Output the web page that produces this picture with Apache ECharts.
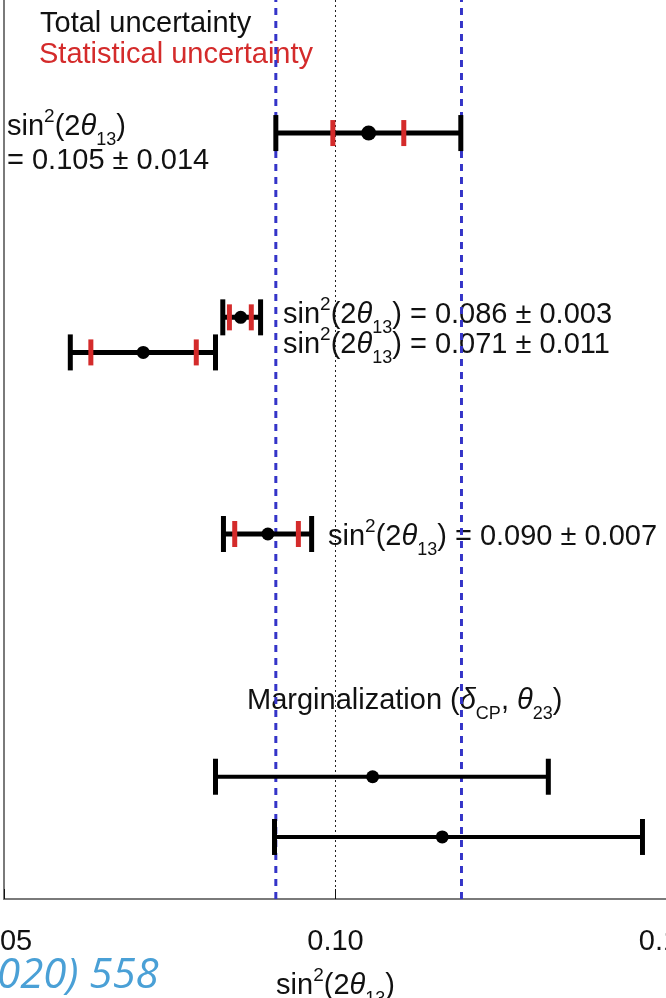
<!DOCTYPE html>
<html><head><meta charset="utf-8">
<script src="https://cdn.jsdelivr.net/npm/echarts@6/dist/echarts.min.js"></script>
<style>html,body{margin:0;padding:0;background:#fff}#c{width:666px;height:998px}</style>
</head><body><div id="c"></div>
<script>
// ---- data ----
const rowLabels = ['Result A', 'Result B', 'Result C', 'Result D', 'Marg. 1', 'Marg. 2'];
const rowPos    = [85.2, 64.7, 60.8, 40.6, 13.6, 6.9];
const centers   = [0.1050, 0.0857, 0.0710, 0.0898, 0.1056, 0.1161];
const totalLo   = [0.0910, 0.0830, 0.0600, 0.0831, 0.0819, 0.0908];
const totalHi   = [0.1189, 0.0887, 0.0819, 0.0964, 0.1321, 0.1463];
const statLo    = [0.0996, 0.0840, 0.0631, 0.0848, null, null];
const statHi    = [0.1103, 0.0873, 0.0790, 0.0944, null, null];
const refLines  = [0.091, 0.119];
const yRange    = [0, 100];
const xTicks    = [0.05, 0.10, 0.15];

const FF = '"Liberation Sans", Arial, Helvetica, sans-serif';
const INK = '#111';
const RED = '#d42b2b';
const BLUE = '#3434c8';

const chart = echarts.init(document.getElementById('c'), null, {renderer: 'canvas'});

function richDef(color) {
  return {
    sup: {fontSize: 19, lineHeight: 19, verticalAlign: 'top', padding: [2, 0, 0, 0], fontFamily: FF, fill: color, color: color},
    sub: {fontSize: 18, lineHeight: 19, verticalAlign: 'bottom', fontFamily: FF, fill: color, color: color},
    it:  {fontSize: 29, lineHeight: 44, fontStyle: 'italic', fontFamily: FF, fill: color, color: color},
    n:   {fontSize: 29, lineHeight: 44, fontFamily: FF, fill: color, color: color}
  };
}
const S2T = '{n|sin}{sup|2}{n|(2}{it|θ}{sub|13}{n|)}';

function txt(x, y, text, color, extra) {
  return Object.assign({
    type: 'text', x: x, y: y, silent: true,
    style: {text: text, fill: color || INK, fontFamily: FF, fontSize: 29, lineHeight: 44,
            align: 'left', verticalAlign: 'middle', rich: richDef(color || INK)}
  }, extra || {});
}

const errData = rowPos.map((p, i) => [totalLo[i], totalHi[i], p]);
const dotData = rowPos.map((p, i) => [centers[i], p]);

const refSeries = refLines.map(v => ({
  type: 'line', z: 2, silent: true, symbol: 'none',
  data: [[v, yRange[0]], [v, yRange[1]]],
  lineStyle: {color: BLUE, width: 3, type: [7, 6]}
}));

chart.setOption({
  animation: false,
  backgroundColor: '#fff',
  grid: {left: 4, top: 0, width: 663, bottom: 99, containLabel: false, outerBoundsMode: 'none'},
  xAxis: {
    type: 'value', min: xTicks[0], max: xTicks[xTicks.length - 1], interval: 0.05,
    axisLine: {show: true, lineStyle: {color: '#7a7a7a', width: 2}},
    axisTick: {show: true, inside: true, length: 10, lineStyle: {color: '#111', width: 1}},
    axisLabel: {show: true, margin: 28, fontSize: 29, fontFamily: FF, color: INK,
                showMinLabel: true, showMaxLabel: true, hideOverlap: false, formatter: v => v.toFixed(2)},
    splitLine: {show: true, lineStyle: {color: '#222', width: 1, type: [2, 3]}},
    name: S2T, nameLocation: 'middle', nameGap: 65,
    nameTextStyle: {fontSize: 29, fontFamily: FF, color: INK, lineHeight: 44, rich: richDef(INK)}
  },
  yAxis: {
    type: 'value', min: yRange[0], max: yRange[1],
    axisLine: {show: true, lineStyle: {color: '#7a7a7a', width: 2}},
    axisTick: {show: false}, axisLabel: {show: false}, splitLine: {show: false}
  },
  series: refSeries.concat([
    {
      type: 'custom', name: 'Total uncertainty', z: 3,
      data: errData,
      encode: {x: [0, 1], y: 2},
      renderItem: function (params, api) {
        const i = params.dataIndex;
        const lo = api.coord([api.value(0), api.value(2)]);
        const hi = api.coord([api.value(1), api.value(2)]);
        const bw = i >= 4 ? 4 : 5;
        const capH = 18;
        const ch = [
          {type: 'line', shape: {x1: lo[0], y1: lo[1], x2: hi[0], y2: hi[1]}, style: {stroke: '#000', lineWidth: bw}},
          {type: 'line', shape: {x1: lo[0], y1: lo[1] - capH, x2: lo[0], y2: lo[1] + capH}, style: {stroke: '#000', lineWidth: 5}},
          {type: 'line', shape: {x1: hi[0], y1: hi[1] - capH, x2: hi[0], y2: hi[1] + capH}, style: {stroke: '#000', lineWidth: 5}}
        ];
        if (statLo[i] != null) {
          const sl = api.coord([statLo[i], api.value(2)]);
          const sh = api.coord([statHi[i], api.value(2)]);
          const rh = 13;
          ch.push({type: 'line', shape: {x1: sl[0], y1: sl[1] - rh, x2: sl[0], y2: sl[1] + rh}, style: {stroke: RED, lineWidth: 5}});
          ch.push({type: 'line', shape: {x1: sh[0], y1: sh[1] - rh, x2: sh[0], y2: sh[1] + rh}, style: {stroke: RED, lineWidth: 5}});
        }
        return {type: 'group', children: ch};
      }
    },
    {
      type: 'scatter', name: 'Central value', z: 5,
      data: dotData,
      symbol: 'circle',
      symbolSize: (v, p) => p.dataIndex === 0 ? 15 : 13,
      itemStyle: {color: '#000', opacity: 1}
    }
  ]),
  graphic: [
    txt(40, 24, 'Total uncertainty', INK),
    txt(39, 55, 'Statistical uncertainty', RED),
    txt(7, 127, S2T, INK),
    txt(7, 161, '= 0.105 ± 0.014', INK),
    txt(283, 315, S2T + '{n| = 0.086 ± 0.003}', INK),
    txt(283, 345, S2T + '{n| = 0.071 ± 0.011}', INK),
    txt(328, 537, S2T + '{n| = 0.090 ± 0.007}', INK),
    txt(247, 701, '{n|Marginalization (}{it|δ}{sub|CP}{n|, }{it|θ}{sub|23}{n|)}', INK),
    {type: 'text', x: -3, y: 976, silent: true,
     style: {text: '020) 558', fill: '#4aa0d6', fontFamily: '"Open Sans", sans-serif', fontStyle: 'italic',
             fontSize: 42, align: 'left', verticalAlign: 'middle'}}
  ]
});
</script>
</body></html>
